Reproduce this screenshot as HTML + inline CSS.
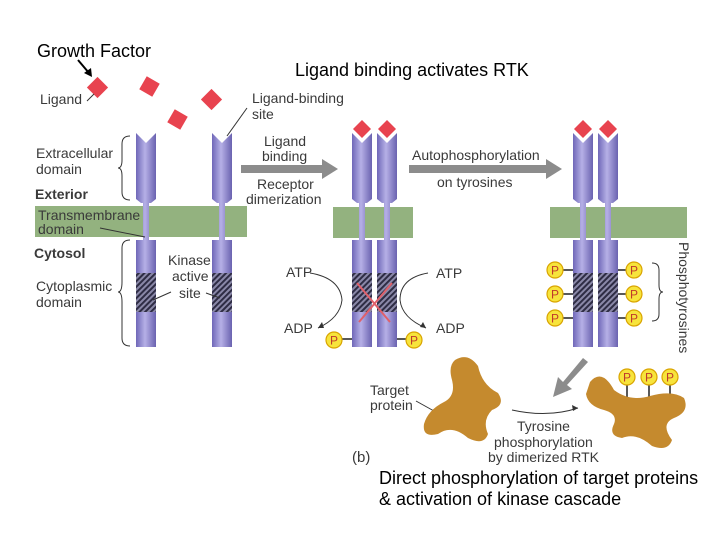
<!DOCTYPE html>
<html><head><meta charset="utf-8"><style>
body{margin:0;background:#fff;}
svg{display:block;font-family:"Liberation Sans",Arial,sans-serif;}
</style></head><body>
<svg width="720" height="540" viewBox="0 0 720 540" xmlns="http://www.w3.org/2000/svg">
<defs>
<linearGradient id="rg" x1="0" x2="1" y1="0" y2="0">
<stop offset="0" stop-color="#6f67b8"/><stop offset="0.45" stop-color="#b6b0e6"/><stop offset="1" stop-color="#6a62b0"/>
</linearGradient>
<pattern id="hatch" width="4" height="4" patternUnits="userSpaceOnUse" patternTransform="rotate(45)">
<rect width="4" height="4" fill="#8a88a8"/><rect width="2" height="4" fill="#2e2c44"/>
</pattern>
<g id="rec">
<path d="M0,0 L10,10 L20,0 L20,66 L15,70 L13,70 L13,107 L20,107 L20,214 L0,214 L0,107 L7,107 L7,70 L5,70 L0,66 Z" fill="url(#rg)"/>
<rect x="0" y="140" width="20" height="39" fill="url(#hatch)"/>
</g>
<g id="P"><circle r="8" fill="#f7e43c" stroke="#d9a400" stroke-width="1.2"/><text y="4.5" text-anchor="middle" font-size="12" fill="#c0392b">P</text></g>
</defs>
<rect x="35" y="206" width="212" height="31" fill="#93b27f"/>
<rect x="333" y="207" width="80" height="31" fill="#93b27f"/>
<rect x="550" y="207" width="137" height="31" fill="#93b27f"/>
<use href="#rec" x="136" y="133"/>
<use href="#rec" x="212" y="133"/>
<use href="#rec" x="352" y="133"/>
<use href="#rec" x="377" y="133"/>
<use href="#rec" x="573" y="133"/>
<use href="#rec" x="598" y="133"/>
<g fill="#e8434f">
<rect x="90" y="80" width="15" height="15" transform="rotate(45 97.5 87.5)"/>
<rect x="142" y="79" width="15" height="15" transform="rotate(30 149.5 86.5)"/>
<rect x="170" y="112" width="15" height="15" transform="rotate(30 177.5 119.5)"/>
<rect x="204" y="92" width="15" height="15" transform="rotate(45 211.5 99.5)"/>
<path d="M362,120 L371,129 L362,138 L353,129Z M387,120 L396,129 L387,138 L378,129Z M583,120 L592,129 L583,138 L574,129Z M608,120 L617,129 L608,138 L599,129Z"/>
</g>
<g fill="#8c8c8c">
<path d="M241,165 L322,165 L322,159 L338,169 L322,179 L322,173 L241,173Z"/>
<path d="M409,165 L546,165 L546,159 L562,169 L546,179 L546,173 L409,173Z"/>
<path d="M583,358 L563,382 L558,377 L553,397 L572,389 L567,385 L588,362Z"/>
</g>
<text x="37" y="57" font-size="18" fill="#000">Growth Factor</text>
<path d="M78,60 L89,73" stroke="#000" stroke-width="2"/><path d="M84,73 L92,77 L91,68Z" fill="#000"/>
<text x="295" y="76" font-size="18" fill="#000">Ligand binding activates RTK</text>
<g font-size="14" fill="#3a3a3a">
<text x="40" y="104">Ligand</text>
<path d="M87,101 L94,94" stroke="#333" stroke-width="1"/>
<text x="252" y="103">Ligand-binding</text><text x="252" y="119">site</text>
<path d="M247,108 L227,136" stroke="#333" stroke-width="1"/>
<text x="36" y="158">Extracellular</text><text x="36" y="174">domain</text>
<text x="35" y="199" font-weight="bold">Exterior</text>
<text x="38" y="220">Transmembrane</text><text x="38" y="234">domain</text>
<path d="M100,228 L145,237" stroke="#333" stroke-width="1"/>
<text x="34" y="258" font-weight="bold">Cytosol</text>
<text x="36" y="291">Cytoplasmic</text><text x="36" y="307">domain</text>
<text x="168" y="265">Kinase</text><text x="172" y="281">active</text><text x="179" y="298">site</text>
<path d="M171,292 L153,300 M206,293 L220,298" stroke="#333" stroke-width="1"/>
<text x="264" y="146">Ligand</text><text x="262" y="161">binding</text>
<text x="257" y="189">Receptor</text><text x="246" y="204">dimerization</text>
<text x="412" y="160">Autophosphorylation</text><text x="437" y="187">on tyrosines</text>
<text x="286" y="277">ATP</text><text x="284" y="333">ADP</text>
<text x="436" y="278">ATP</text><text x="436" y="333">ADP</text>
<text x="370" y="395">Target</text><text x="370" y="410">protein</text>
<path d="M416,401 L434,411" stroke="#333" stroke-width="1"/>
<text x="517" y="431">Tyrosine</text><text x="494" y="447">phosphorylation</text><text x="488" y="462">by dimerized RTK</text>
<text x="352" y="462" font-size="15">(b)</text>
<text x="679" y="242" transform="rotate(90 679 242)">Phosphotyrosines</text>
</g>
<g fill="none" stroke="#333" stroke-width="1">
<path d="M130,136 Q122,136 122,144 L122,160 Q122,168 118,168 Q122,168 122,176 L122,192 Q122,200 130,200"/>
<path d="M130,240 Q122,240 122,248 L122,282 Q122,292 118,292 Q122,292 122,302 L122,338 Q122,346 130,346"/>
<path d="M652,263 Q659,263 659,270 L659,285 Q659,292 663,292 Q659,292 659,299 L659,314 Q659,321 652,321"/>
<path d="M310,273 Q340,278 342,300 Q340,318 318,328"/><path d="M428,273 Q400,278 400,300 Q402,318 426,328"/>
<path d="M512,410 Q548,418 578,408"/>
</g>
<path d="M318,328 l4,-6 l2,6z M426,328 l-6,-1 l3,-5z M578,408 l-6,-3 l1,6z" fill="#333"/>
<g stroke="#e0606a" stroke-width="2" fill="none"><path d="M357,283 L390,322 M392,283 L359,322"/></g>
<g stroke="#222" stroke-width="1.5"><path d="M342,339 L352,339 M397,339 L408,339 M560,270 L573,270 M560,294 L573,294 M560,318 L573,318 M618,270 L630,270 M618,294 L630,294 M618,318 L630,318 M627,385 L627,400 M649,385 L649,397 M670,385 L670,395"/></g>
<use href="#P" x="334" y="340"/><use href="#P" x="414" y="340"/>
<use href="#P" x="555" y="270"/><use href="#P" x="555" y="294"/><use href="#P" x="555" y="318"/>
<use href="#P" x="634" y="270"/><use href="#P" x="634" y="294"/><use href="#P" x="634" y="318"/>
<use href="#P" x="627" y="377"/><use href="#P" x="649" y="377"/><use href="#P" x="670" y="377"/>
<g fill="#c58a2e">
<path d="M455,360 Q468,352 478,366 Q482,385 498,393 Q506,405 492,410 Q482,420 488,434 Q484,446 468,438 Q452,424 438,434 Q422,438 424,424 Q428,410 444,402 Q456,396 452,380 Q448,366 455,360Z"/>
<path d="M590,382 Q602,368 614,390 Q630,402 650,396 Q672,390 684,398 Q690,412 674,418 Q660,424 672,440 Q668,452 652,446 Q636,432 622,438 Q608,436 614,424 Q618,414 604,410 Q588,406 586,394Z"/>
</g>
<text x="379" y="484" font-size="18" fill="#000">Direct phosphorylation of target proteins</text>
<text x="379" y="505" font-size="18" fill="#000">&amp; activation of kinase cascade</text>
</svg>
</body></html>
